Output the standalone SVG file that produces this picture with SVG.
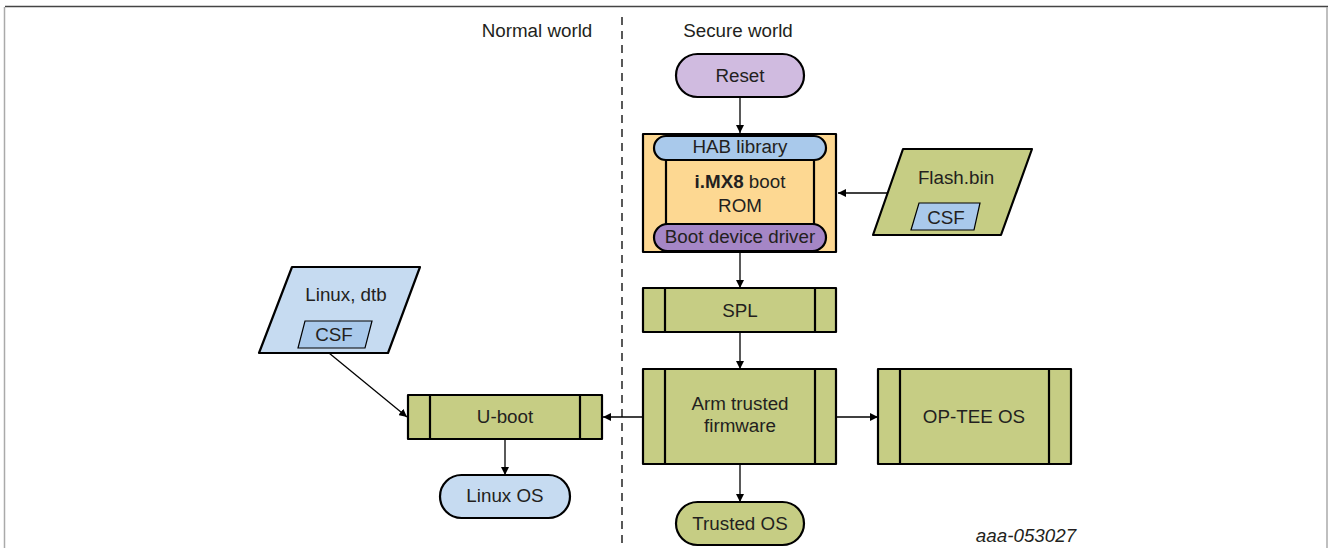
<svg xmlns="http://www.w3.org/2000/svg" width="1328" height="548" viewBox="0 0 1328 548">
<defs>
<marker id="ah" viewBox="0 0 10 10" refX="10" refY="5" markerWidth="8" markerHeight="8" markerUnits="userSpaceOnUse" orient="auto">
<path d="M0,0 L10,5 L0,10 z" fill="#000"/>
</marker>
<style>
text{font-family:"Liberation Sans",Arial,sans-serif;font-size:18.8px;fill:#231f20;text-anchor:middle}
.b{stroke:#000;stroke-width:2.2;stroke-linejoin:round}
.t{stroke:#000;stroke-width:1.2}
.green{fill:#c6cd84}
.lb{fill:#c6dbf1}
.mb{fill:#a9c9eb}
.c{stroke:#000;stroke-width:1.3;fill:none;marker-end:url(#ah)}
</style>
</defs>
<rect width="1328" height="548" fill="#fff"/>
<g id="frame">
<line x1="5" y1="6.5" x2="1328" y2="6.5" stroke="#444" stroke-width="1.5"/>
<line x1="4.5" y1="7" x2="4.5" y2="548" stroke="#aaa" stroke-width="1.5"/>
<line x1="1327" y1="7" x2="1327" y2="548" stroke="#aaa" stroke-width="1.5"/>
</g>
<g id="divider">
<line x1="622" y1="17" x2="622" y2="548" stroke="#000" stroke-width="1.3" stroke-dasharray="8,6"/>
<text x="537" y="37">Normal world</text>
<text x="738" y="37">Secure world</text>
</g>
<g id="connectors">
<line class="c" x1="740" y1="97" x2="740" y2="133"/>
<line class="c" x1="888" y1="193" x2="838" y2="193"/>
<line class="c" x1="740" y1="252" x2="740" y2="288"/>
<line class="c" x1="740" y1="332" x2="740" y2="369"/>
<line class="c" x1="836" y1="417" x2="878" y2="417"/>
<line class="c" x1="643" y1="417" x2="603" y2="417"/>
<line class="c" x1="740" y1="464" x2="740" y2="502"/>
<line class="c" x1="329" y1="353" x2="407" y2="417"/>
<line class="c" x1="505" y1="439" x2="505" y2="475"/>
</g>
<g id="reset">
<rect class="b" x="676" y="54" width="128" height="43" rx="21.5" fill="#d0bbe0"/>
<text x="740" y="82">Reset</text>
</g>
<g id="bootrom">
<rect class="b" x="643" y="134" width="193" height="118" fill="#fdd892"/>
<rect class="b" x="666" y="160" width="148" height="64" fill="#fdd892"/>
<rect class="b mb" x="654" y="136" width="172" height="24" rx="12"/>
<rect class="b" x="654" y="224" width="172" height="27" rx="13.5" fill="#a586c6"/>
<text x="740" y="153">HAB library</text>
<text x="740" y="188"><tspan font-weight="bold">i.MX8</tspan> boot</text>
<text x="740" y="212">ROM</text>
<text x="740" y="243">Boot device driver</text>
</g>
<g id="flashbin">
<polygon class="b green" points="903,149 1032,149 1001,235 873,235"/>
<text x="956" y="184">Flash.bin</text>
<polygon class="t mb" points="919,203 980,203 974,230 911,230"/>
<text x="946" y="224">CSF</text>
</g>
<g id="spl">
<rect class="b green" x="643" y="288" width="193" height="44"/>
<line class="b" x1="665" y1="288" x2="665" y2="332"/>
<line class="b" x1="815" y1="288" x2="815" y2="332"/>
<text x="740" y="317">SPL</text>
</g>
<g id="atf">
<rect class="b green" x="643" y="369" width="193" height="95"/>
<line class="b" x1="665" y1="369" x2="665" y2="464"/>
<line class="b" x1="815" y1="369" x2="815" y2="464"/>
<text x="740" y="410">Arm trusted</text>
<text x="740" y="432">firmware</text>
</g>
<g id="optee">
<rect class="b green" x="878" y="369" width="193" height="95"/>
<line class="b" x1="900" y1="369" x2="900" y2="464"/>
<line class="b" x1="1049" y1="369" x2="1049" y2="464"/>
<text x="974" y="423">OP-TEE OS</text>
</g>
<g id="trustedos">
<rect class="b green" x="676" y="502" width="128" height="43" rx="21.5"/>
<text x="740" y="530">Trusted OS</text>
</g>
<g id="linuxdtb">
<polygon class="b lb" points="292,267 420,267 388,353 259,353"/>
<text x="346" y="301">Linux, dtb</text>
<polygon class="t mb" points="305,321 372,321 365,348 298,348"/>
<text x="334" y="341">CSF</text>
</g>
<g id="uboot">
<rect class="b green" x="408" y="395" width="194" height="44"/>
<line class="b" x1="430" y1="395" x2="430" y2="439"/>
<line class="b" x1="580" y1="395" x2="580" y2="439"/>
<text x="505" y="423">U-boot</text>
</g>
<g id="linuxos">
<rect class="b lb" x="440" y="475" width="130" height="43" rx="21.5"/>
<text x="505" y="502">Linux OS</text>
</g>
<text x="1026" y="542" font-style="italic" font-size="16.5px">aaa-053027</text>
</svg>
